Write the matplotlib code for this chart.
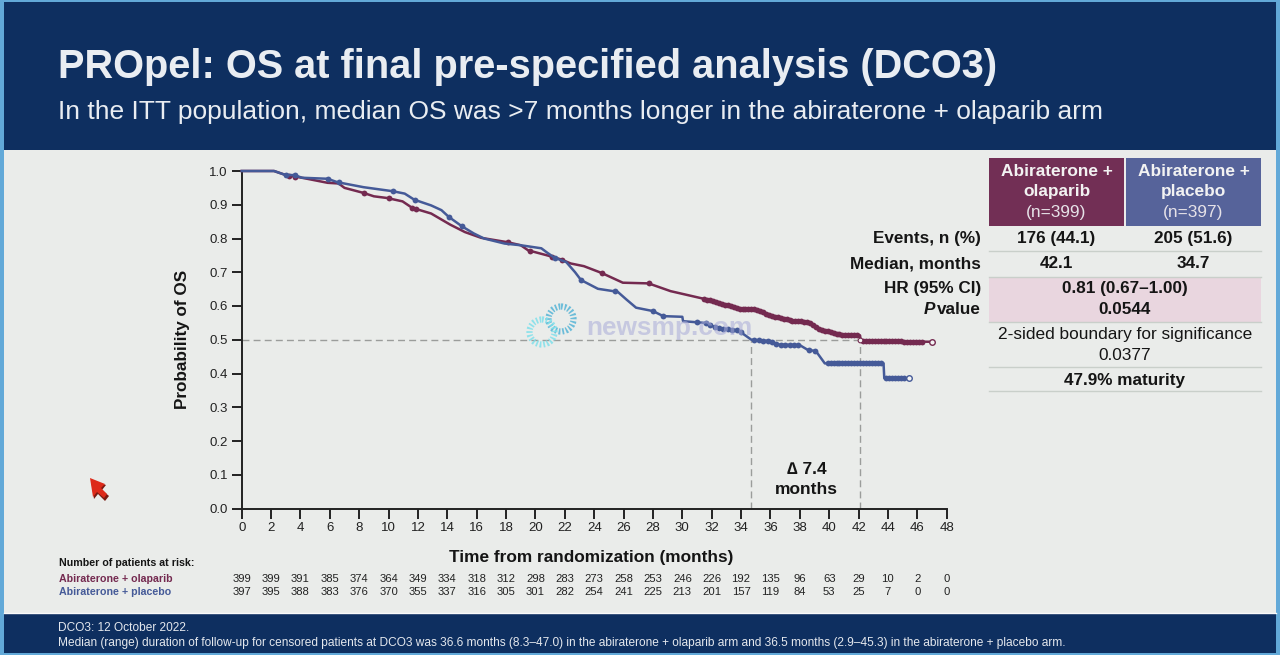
import numpy as np
import matplotlib
matplotlib.use("Agg")
import matplotlib.pyplot as plt
from matplotlib.patches import Rectangle, Circle, Polygon

plt.rcParams["font.family"] = ["Liberation Sans", "DejaVu Sans"]

RED = "#742a50"
BLUE = "#455a98"
NAVY = "#0e2f60"

# curves (month, survival)
ola_t = [0, 2.2, 3, 4.1, 5.85, 6.6, 7, 8.3, 9, 9.9, 10.95, 11.6, 12.9, 14.2, 15.2, 16.3, 18.1, 19, 19.5,
         20.8, 21.75, 22.4, 23.3, 24.5, 25.95, 27.7, 29.2, 31.2, 32.2, 33.8, 35, 36, 37.4, 38.6, 39.25,
         40.6, 42.1, 42.15, 47.0]
ola_s = [1.0, 1.0, 0.988, 0.98, 0.965, 0.963, 0.95, 0.935, 0.925, 0.92, 0.91, 0.891, 0.874, 0.841, 0.819,
         0.802, 0.789, 0.78, 0.765, 0.75, 0.738, 0.726, 0.718, 0.698, 0.669, 0.667, 0.644, 0.624, 0.614,
         0.592, 0.59, 0.572, 0.557, 0.553, 0.533, 0.516, 0.513, 0.496, 0.494]
pla_t = [0, 2.2, 3, 3.6, 4.1, 5.85, 6.5, 8.3, 10.3, 11.1, 11.75, 12.9, 13.6, 14.1, 15, 15.8, 16.5, 17.9, 19,
         20.4, 20.8, 21.3, 22.1, 22.7, 23.1, 24.25, 25.6, 26.2, 26.85, 28, 28.7, 30, 30.05, 31.5, 32.4, 33.8,
         34.7, 36, 36.5, 38, 38.5, 39.1, 39.7, 43.7, 43.75, 45.4]
pla_s = [1.0, 1.0, 0.988, 0.988, 0.98, 0.977, 0.967, 0.952, 0.94, 0.933, 0.915, 0.898, 0.884, 0.864, 0.836, 0.815,
         0.80, 0.785, 0.78, 0.771, 0.758, 0.743, 0.73, 0.70, 0.677, 0.651, 0.642, 0.619, 0.595, 0.585, 0.57,
         0.568, 0.555, 0.55, 0.535, 0.528, 0.50, 0.496, 0.486, 0.484, 0.471, 0.466, 0.43, 0.43, 0.386, 0.386]

# censor ticks
ola_cens = [3.2, 3.6, 8.3, 10, 11.6, 11.9, 18.1, 19.6, 21.1, 21.8, 24.5, 27.7, 31.5, 31.7, 31.9, 32.1, 32.3,
            32.5, 32.7, 32.9, 33.1, 33.3, 33.5, 33.7, 33.9, 34.1, 34.3, 34.5, 34.7, 34.9, 35.1, 35.3, 35.5,
            35.7, 35.9, 36.1, 36.3, 36.5, 36.7, 36.9, 37.1, 37.3, 37.5, 37.7, 37.9, 38.1, 38.3, 38.5, 38.7,
            38.9, 39.1, 39.3, 39.5, 39.7, 39.9, 40.1, 40.3, 40.5, 40.7, 40.9, 41.1, 41.3, 41.5, 41.7, 41.9,
            42.3, 42.5, 42.7, 42.9, 43.1, 43.3, 43.5, 43.7, 43.9, 44.1, 44.3, 44.5, 44.7, 44.9, 45.1, 45.3,
            45.5, 45.7, 45.9, 46.1, 46.3]
pla_cens = [3, 3.6, 5.85, 6.6, 10.3, 11.8, 14.1, 15, 21.3, 23.1, 25.4, 28, 28.7, 31, 31.6, 31.9, 32.2, 32.5,
            32.8, 33.1, 33.4, 33.7, 34, 34.9, 35.2, 35.5, 35.8, 36.1, 36.4, 36.7, 37, 37.3, 37.6, 37.9, 38.6,
            39, 39.9, 40.1, 40.3, 40.5, 40.7, 40.9, 41.1, 41.3, 41.5, 41.7, 41.9, 42.1, 42.3, 42.5, 42.7, 42.9,
            43.1, 43.3, 43.5, 43.9, 44.1, 44.3, 44.5, 44.7, 44.9, 45.1]

yticks = [0.0, 0.1, 0.2, 0.3, 0.4, 0.5, 0.6, 0.7, 0.8, 0.9, 1.0]
xticks = list(range(0, 50, 2))
risk_ola = [399, 399, 391, 385, 374, 364, 349, 334, 318, 312, 298, 283, 273, 258, 253, 246, 226, 192, 135, 96,
            63, 29, 10, 2, 0]
risk_pla = [397, 395, 388, 383, 376, 370, 355, 337, 316, 305, 301, 282, 254, 241, 225, 213, 201, 157, 119, 84,
            53, 25, 7, 0, 0]
median_ola = 42.1
median_pla = 34.7

fig = plt.figure(figsize=(12.8, 6.55), dpi=100, facecolor="#62a9d8")

# slide background, in pixel coordinates
bg = fig.add_axes([0, 0, 1, 1])
bg.set_xlim(0, 1280)
bg.set_ylim(655, 0)
bg.axis("off")
bg.add_patch(Rectangle((4, 2), 1272, 148, fc=NAVY, ec="none"))
bg.add_patch(Rectangle((4, 150), 1272, 463, fc="#eaecea", ec="none"))
bg.add_patch(Rectangle((4, 613), 1272, 40, fc=NAVY, ec="none"))
bg.plot([4, 1276], [612.5, 612.5], color="#fafafa", lw=1)

bg.text(58, 67, "PROpel: OS at final pre-specified analysis (DCO3)", color="#e9edf2", fontsize=28.65,
        fontweight="bold", va="center")
bg.text(58, 112.5, "In the ITT population, median OS was >7 months longer in the abiraterone + olaparib arm",
        color="#e9edf2", fontsize=19.0, va="center")
bg.text(58, 628, "DCO3: 12 October 2022.", color="#e4e8ee", fontsize=8.6, va="center")
bg.text(58, 643, "Median (range) duration of follow-up for censored patients at DCO3 was 36.6 months (8.3–47.0) in "
        "the abiraterone + olaparib arm and 36.5 months (2.9–45.3) in the abiraterone + placebo arm.",
        color="#e4e8ee", fontsize=8.6, va="center")

# results table on the right
bg.add_patch(Rectangle((989, 158), 135, 68, fc="#722f55", ec="none"))
bg.add_patch(Rectangle((1126, 158), 135, 68, fc="#56639a", ec="none"))
bg.add_patch(Rectangle((989, 277), 272, 45, fc="#e9d6df", ec="none"))
for yl in [250.5, 276.5, 322, 367, 391]:
    bg.plot([989, 1261], [yl, yl], color="#c9cfca", lw=1)
for cx, name, n in [(1056.5, "Abiraterone +\nolaparib", "(n=399)"), (1193.5, "Abiraterone +\nplacebo", "(n=397)")]:
    bg.text(cx, 181.5, name, color="#f2f2f2", fontsize=12.4, fontweight="bold", ha="center", va="center",
            linespacing=1.42)
    bg.text(cx, 213, n, color="#e6e2e8", fontsize=12.4, ha="center", va="center")
TXT = "#151515"
for yr, label in [(239, "Events, n (%)"), (264, "Median, months"), (289, "HR (95% CI)")]:
    bg.text(981, yr, label, color=TXT, fontsize=12.35, fontweight="bold", ha="right", va="center")
bg.text(981, 310, "value", color=TXT, fontsize=12.35, fontweight="bold", ha="right", va="center")
bg.text(935, 310, "P", color=TXT, fontsize=12.35, fontweight="bold", fontstyle="italic", ha="right", va="center")
for cx, yr, label in [(1056.5, 239, "176 (44.1)"), (1193.5, 239, "205 (51.6)"), (1056.5, 264, "42.1"),
                      (1193.5, 264, "34.7"), (1125, 289, "0.81 (0.67–1.00)"), (1125, 310, "0.0544"),
                      (1125, 380, "47.9% maturity")]:
    bg.text(cx, yr, label, color=TXT, fontsize=12.35, fontweight="bold", ha="center", va="center")
bg.text(1125, 335, "2-sided boundary for significance", color=TXT, fontsize=12.4, ha="center", va="center")
bg.text(1125, 355, "0.0377", color=TXT, fontsize=12.4, ha="center", va="center")

# red pointer left on the slide
bg.add_patch(Polygon([(91, 480), (106, 485), (102, 490), (109, 496), (105, 501), (98, 494), (94, 499)],
                     fc="#7a1a12", ec="none"))
bg.add_patch(Polygon([(90, 478), (105, 484), (101, 488), (107, 494), (104, 498), (97, 492), (93, 497)],
                     fc="#dd2a1a", ec="none"))

# KM plot
ax = fig.add_axes([241.7 / 1280, 1 - 508.5 / 655, 705 / 1280, 337.5 / 655])
ax.set_facecolor("none")
ax.set_xlim(0, 48)
ax.set_ylim(0, 1)
for s in ["top", "right"]:
    ax.spines[s].set_visible(False)
for s in ["left", "bottom"]:
    ax.spines[s].set_linewidth(1.4)
    ax.spines[s].set_color("#222222")
ax.set_xticks(xticks)
ax.set_yticks(yticks)
ax.set_yticklabels(["%.1f" % v for v in yticks])
ax.tick_params(length=7, width=1.4, color="#222222", labelsize=9.5, labelcolor="#222222", pad=3)
ax.set_xlabel("Time from randomization (months)", fontsize=12.4, fontweight="bold", labelpad=11, color=TXT, x=0.496)
ax.set_ylabel("Probability of OS", fontsize=12.3, fontweight="bold", labelpad=14, color=TXT)

DASH = dict(color="#9b9d9b", lw=1, ls=(0, (5, 3)), zorder=1)
ax.plot([0, median_ola], [0.5, 0.5], **DASH)
ax.plot([median_pla, median_pla], [0, 0.5], **DASH)
ax.plot([median_ola, median_ola], [0, 0.5], **DASH)

ax.plot(ola_t, ola_s, color=RED, lw=1.8, zorder=3, clip_on=False)
ax.plot(pla_t, pla_s, color=BLUE, lw=1.8, zorder=4, clip_on=False)
ax.plot(ola_cens, np.interp(ola_cens, ola_t, ola_s), "o", color=RED, ms=4.2, zorder=3, mew=0)
ax.plot(pla_cens, np.interp(pla_cens, pla_t, pla_s), "o", color=BLUE, ms=4.2, zorder=4, mew=0)
# open end points
ax.plot([ola_t[-1]], [ola_s[-1]], "o", mfc="#f4f4f4", mec=RED, ms=4, mew=1, zorder=5)
ax.plot([pla_t[-1]], [pla_s[-1]], "o", mfc="#f4f4f4", mec=BLUE, ms=4, mew=1, zorder=5)
ax.plot([median_ola], [0.5], "o", mfc="#f4f4f4", mec=RED, ms=3.4, mew=0.8, zorder=5)

ax.text(38.45, 0.087, "∆ 7.4\nmonths", fontsize=12.5, fontweight="bold", color=TXT, ha="center", va="center",
        linespacing=1.4)

# patients at risk, under the x ticks
tr = ax.get_xaxis_transform()
for xv, a, b in zip(xticks, risk_ola, risk_pla):
    ax.text(xv, -(579 - 508.5) / 337.5, str(a), transform=tr, fontsize=8.1, color="#222222", ha="center", va="center",
            clip_on=False)
    ax.text(xv, -(592 - 508.5) / 337.5, str(b), transform=tr, fontsize=8.1, color="#222222", ha="center", va="center",
            clip_on=False)
bg.text(59, 563, "Number of patients at risk:", color=TXT, fontsize=7.7, fontweight="bold", va="center")
bg.text(59, 579.5, "Abiraterone + olaparib", color=RED, fontsize=7.7, fontweight="bold", va="center")
bg.text(59, 592, "Abiraterone + placebo", color=BLUE, fontsize=7.7, fontweight="bold", va="center")

# newsmp.com watermark on top of the plot
top = fig.add_axes([0, 0, 1, 1])
top.set_xlim(0, 1280)
top.set_ylim(655, 0)
top.axis("off")
top.add_patch(Circle((561, 319), 12.5, fill=False, ec="#55b4d6", lw=4.5, ls=(0, (0.28, 0.3)), alpha=0.85))
top.add_patch(Circle((542, 332), 12.5, fill=False, ec="#80e0ea", lw=4.5, ls=(0, (0.28, 0.3)), alpha=0.85))
top.text(586, 328, "newsmp.com", color="#a9acd8", alpha=0.55, fontsize=18.9, fontweight="bold", va="center")

fig.savefig("out.png", dpi=100, facecolor=fig.get_facecolor())
